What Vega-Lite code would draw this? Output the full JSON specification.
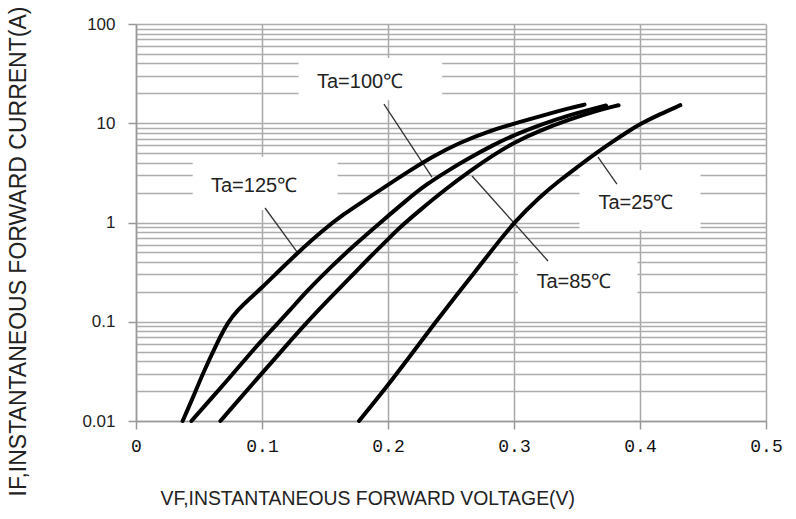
{
  "$schema": "https://vega.github.io/schema/vega-lite/v6.json",
  "width": 630,
  "height": 397,
  "autosize": {"type": "none"},
  "padding": {"left": 136, "top": 24, "right": 30, "bottom": 98},
  "background": "white",
  "config": {"view": {"stroke": null}},
  "datasets": {
    "curves": [
      {"series": "125", "v": 0.037, "i": 0.01}, {"series": "125", "v": 0.045, "i": 0.017}, {"series": "125", "v": 0.053, "i": 0.03}, {"series": "125", "v": 0.064, "i": 0.06}, {"series": "125", "v": 0.073, "i": 0.1}, {"series": "125", "v": 0.081, "i": 0.132}, {"series": "125", "v": 0.09, "i": 0.17}, {"series": "125", "v": 0.1, "i": 0.221}, {"series": "125", "v": 0.114, "i": 0.331}, {"series": "125", "v": 0.128, "i": 0.49}, {"series": "125", "v": 0.148, "i": 0.83}, {"series": "125", "v": 0.165, "i": 1.22}, {"series": "125", "v": 0.183, "i": 1.72}, {"series": "125", "v": 0.2, "i": 2.4}, {"series": "125", "v": 0.215, "i": 3.2}, {"series": "125", "v": 0.235, "i": 4.6}, {"series": "125", "v": 0.257, "i": 6.4}, {"series": "125", "v": 0.28, "i": 8.3}, {"series": "125", "v": 0.3, "i": 9.9}, {"series": "125", "v": 0.325, "i": 12.2}, {"series": "125", "v": 0.344, "i": 14.2}, {"series": "125", "v": 0.356, "i": 15.4},
      {"series": "100", "v": 0.044, "i": 0.01}, {"series": "100", "v": 0.06, "i": 0.017}, {"series": "100", "v": 0.075, "i": 0.028}, {"series": "100", "v": 0.09, "i": 0.047}, {"series": "100", "v": 0.1, "i": 0.065}, {"series": "100", "v": 0.113, "i": 0.098}, {"series": "100", "v": 0.122, "i": 0.13}, {"series": "100", "v": 0.135, "i": 0.2}, {"series": "100", "v": 0.154, "i": 0.35}, {"series": "100", "v": 0.175, "i": 0.62}, {"series": "100", "v": 0.194, "i": 1.0}, {"series": "100", "v": 0.215, "i": 1.69}, {"series": "100", "v": 0.23, "i": 2.4}, {"series": "100", "v": 0.247, "i": 3.3}, {"series": "100", "v": 0.265, "i": 4.5}, {"series": "100", "v": 0.283, "i": 6.0}, {"series": "100", "v": 0.3, "i": 7.6}, {"series": "100", "v": 0.32, "i": 9.6}, {"series": "100", "v": 0.344, "i": 12.1}, {"series": "100", "v": 0.36, "i": 13.7}, {"series": "100", "v": 0.373, "i": 15.1},
      {"series": "85", "v": 0.067, "i": 0.01}, {"series": "85", "v": 0.08, "i": 0.0155}, {"series": "85", "v": 0.095, "i": 0.0257}, {"series": "85", "v": 0.11, "i": 0.0422}, {"series": "85", "v": 0.122, "i": 0.063}, {"series": "85", "v": 0.133, "i": 0.091}, {"series": "85", "v": 0.154, "i": 0.174}, {"series": "85", "v": 0.17, "i": 0.28}, {"series": "85", "v": 0.185, "i": 0.44}, {"series": "85", "v": 0.2, "i": 0.68}, {"series": "85", "v": 0.212, "i": 0.955}, {"series": "85", "v": 0.225, "i": 1.32}, {"series": "85", "v": 0.245, "i": 2.14}, {"series": "85", "v": 0.267, "i": 3.43}, {"series": "85", "v": 0.283, "i": 4.73}, {"series": "85", "v": 0.3, "i": 6.4}, {"series": "85", "v": 0.32, "i": 8.4}, {"series": "85", "v": 0.344, "i": 10.9}, {"series": "85", "v": 0.365, "i": 13.3}, {"series": "85", "v": 0.383, "i": 15.2},
      {"series": "25", "v": 0.177, "i": 0.01}, {"series": "25", "v": 0.2, "i": 0.023}, {"series": "25", "v": 0.215, "i": 0.041}, {"series": "25", "v": 0.238, "i": 0.1}, {"series": "25", "v": 0.255, "i": 0.19}, {"series": "25", "v": 0.27, "i": 0.33}, {"series": "25", "v": 0.285, "i": 0.58}, {"series": "25", "v": 0.3, "i": 1.0}, {"series": "25", "v": 0.32, "i": 1.8}, {"series": "25", "v": 0.337, "i": 2.7}, {"series": "25", "v": 0.35, "i": 3.6}, {"series": "25", "v": 0.363, "i": 4.8}, {"series": "25", "v": 0.378, "i": 6.5}, {"series": "25", "v": 0.39, "i": 8.2}, {"series": "25", "v": 0.4, "i": 9.8}, {"series": "25", "v": 0.415, "i": 12.2}, {"series": "25", "v": 0.432, "i": 15.2}
    ],
    "boxes": [
      {"label": "Ta=100℃", "v": 0.129, "v2": 0.243, "i": 17.1, "i2": 45.4},
      {"label": "Ta=125℃", "v": 0.045, "v2": 0.16, "i": 1.34, "i2": 4.6},
      {"label": "Ta=85℃", "v": 0.303, "v2": 0.398, "i": 0.148, "i2": 0.47},
      {"label": "Ta=25℃", "v": 0.352, "v2": 0.448, "i": 0.84, "i2": 3.38}
    ],
    "leaders": [
      {"label": "Ta=125℃", "v": 0.1024, "i": 1.40, "v2": 0.1278, "i2": 0.505},
      {"label": "Ta=100℃", "v": 0.1968, "i": 15.6, "v2": 0.2349, "i2": 2.87},
      {"label": "Ta=85℃", "v": 0.2667, "i": 2.94, "v2": 0.327, "i2": 0.409},
      {"label": "Ta=25℃", "v": 0.3667, "i": 4.57, "v2": 0.3817, "i2": 2.44}
    ],
    "labels": [
      {"label": "Ta=100℃", "v": 0.1778, "i": 26.1},
      {"label": "Ta=125℃", "v": 0.0937, "i": 2.33},
      {"label": "Ta=85℃", "v": 0.3476, "i": 0.2515},
      {"label": "Ta=25℃", "v": 0.3968, "i": 1.57}
    ]
  },
  "encoding": {
    "x": {
      "field": "v", "type": "quantitative",
      "scale": {"domain": [0, 0.5], "nice": false, "zero": false},
      "axis": {
        "title": "VF,INSTANTANEOUS FORWARD VOLTAGE(V)",
        "values": [0, 0.1, 0.2, 0.3, 0.4, 0.5],
        "format": "~g",
        "grid": true, "gridColor": "#a8a8a8", "gridWidth": 1.5,
        "domainColor": "#999999", "domainWidth": 1.5,
        "tickColor": "#999999", "tickWidth": 1.5, "tickSize": 8,
        "labelFont": "Liberation Mono", "labelFontSize": 18, "labelColor": "#111111",
        "labelPadding": 8, "labelFlush": false, "labelOverlap": false,
        "titleFont": "Liberation Sans", "titleFontSize": 19.4, "titleFontWeight": "normal", "titleColor": "#222222",
        "titleAnchor": "start", "titleAlign": "left", "titleBaseline": "alphabetic", "titleX": 24, "titleY": 83
      }
    },
    "y": {
      "field": "i", "type": "quantitative",
      "scale": {"type": "log", "domain": [0.01, 100], "nice": false},
      "axis": {
        "title": "IF,INSTANTANEOUS FORWARD CURRENT(A)",
        "values": [0.01, 0.02, 0.03, 0.04, 0.05, 0.06, 0.07, 0.08, 0.09, 0.1, 0.2, 0.3, 0.4, 0.5, 0.6, 0.7, 0.8, 0.9, 1, 2, 3, 4, 5, 6, 7, 8, 9, 10, 20, 30, 40, 50, 60, 70, 80, 90, 100],
        "labelExpr": "indexof([0.01, 0.1, 1, 10, 100], datum.value) >= 0 ? format(datum.value, '~g') : ''",
        "grid": true, "gridColor": "#adadad", "gridWidth": 1.5,
        "domainColor": "#999999", "domainWidth": 1.5,
        "tickColor": "#999999", "tickWidth": 1.5, "tickSize": 8,
        "tickOpacity": {"condition": {"test": "indexof([0.01, 0.1, 1, 10, 100], datum.value) >= 0", "value": 1}, "value": 0},
        "labelFont": "Liberation Sans", "labelFontSize": 17, "labelColor": "#222222",
        "labelPadding": 13, "labelOverlap": false, "labelFlush": false,
        "titleFont": "Liberation Sans", "titleFontSize": 23, "titleFontWeight": "normal", "titleColor": "#222222",
        "titleAngle": 270, "titleAlign": "center", "titleBaseline": "middle", "titleX": -118, "titleY": 227
      }
    }
  },
  "layer": [
    {
      "data": {"name": "boxes"},
      "mark": {"type": "rect", "fill": "white", "stroke": null},
      "encoding": {"x2": {"field": "v2"}, "y2": {"field": "i2"}}
    },
    {
      "data": {"name": "leaders"},
      "mark": {"type": "rule", "color": "#333333", "strokeWidth": 1.3},
      "encoding": {"x2": {"field": "v2"}, "y2": {"field": "i2"}}
    },
    {
      "data": {"name": "curves"},
      "mark": {"type": "line", "color": "black", "strokeWidth": 4, "interpolate": "basis", "strokeCap": "round"},
      "encoding": {"detail": {"field": "series"}}
    },
    {
      "data": {"name": "labels"},
      "mark": {"type": "text", "font": "Liberation Sans", "fontSize": 20, "align": "center", "baseline": "middle", "color": "#222222"},
      "encoding": {"text": {"field": "label"}}
    }
  ]
}
